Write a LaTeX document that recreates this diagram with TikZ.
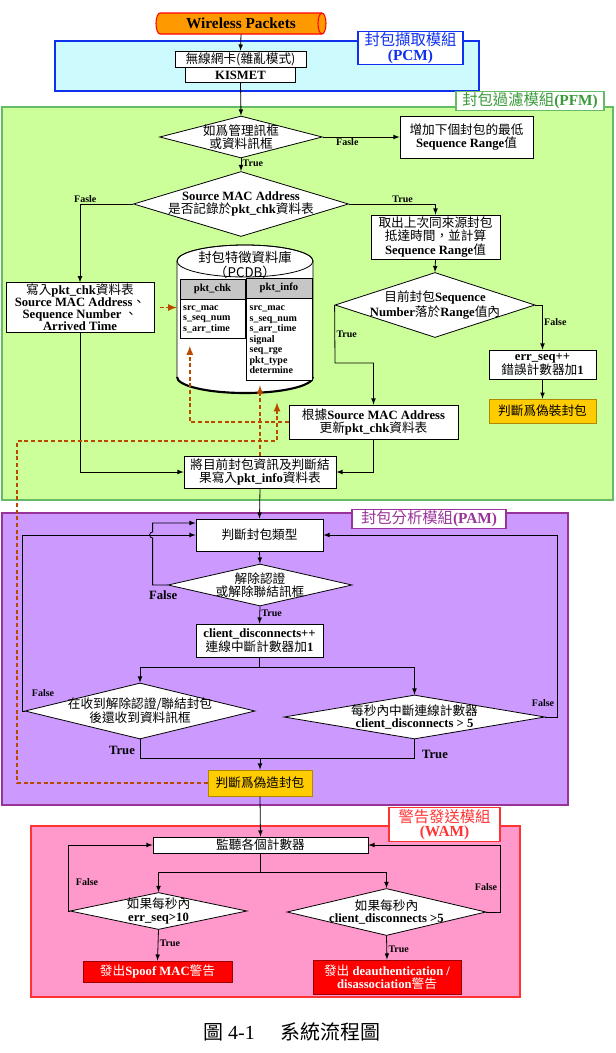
\documentclass[tikz,border=0pt]{standalone}
\usepackage{fontspec}
\setmainfont{Liberation Serif}
\newfontfamily\zhfont{Noto Sans CJK TC}
\newcommand{\zh}[1]{{\zhfont\mdseries #1}}
\usepackage{tikz}
\usetikzlibrary{positioning}
\usetikzlibrary{arrows,shapes.geometric}
\definecolor{pcmfill}{HTML}{CCFAFD}
\definecolor{pcmline}{HTML}{1030F0}
\definecolor{pfmfill}{HTML}{CCFF99}
\definecolor{pfmline}{HTML}{66BB66}
\definecolor{pfmtext}{HTML}{3A9A3A}
\definecolor{pamfill}{HTML}{CC99FF}
\definecolor{pamline}{HTML}{993399}
\definecolor{wamfill}{HTML}{FF99CC}
\definecolor{wamline}{HTML}{FF3333}
\definecolor{pktorange}{HTML}{FF9900}
\definecolor{fakeyellow}{HTML}{FFCC00}
\definecolor{fakeline}{HTML}{B08800}
\definecolor{alarmline}{HTML}{990000}
\definecolor{dbline}{HTML}{B84A00}
\tikzstyle{flow} = [draw,->]
\tikzstyle{dbflow} = [draw=dbline,->,line width=1.3pt,dash pattern=on 3pt off 2pt]
\tikzstyle{box} = [draw,fill=white,inner sep=1pt,align=center,font=\bfseries\fontsize{9.5}{10}\selectfont]
\tikzstyle{dia} = [diamond,draw,fill=white,inner xsep=-4pt,inner ysep=-2pt,align=center,font=\bfseries\fontsize{9.5}{9.5}\selectfont]
\tikzstyle{fake} = [box,fill=fakeyellow,draw=fakeline]
\tikzstyle{alarm} = [box,fill=red,draw=alarmline,text=white]
\tikzstyle{lbl} = [inner sep=1pt,font=\bfseries\fontsize{7.5}{8}\selectfont]
\tikzstyle{biglbl} = [inner sep=1pt,font=\bfseries\fontsize{9.5}{10}\selectfont]
\tikzstyle{modlabel} = [draw,fill=white,line width=1pt,align=center,inner sep=1pt,font=\bfseries\fontsize{11.5}{11}\selectfont]
\tikzstyle{tablehead} = [draw,fill=gray!45,inner sep=1pt,font=\bfseries\fontsize{8}{9}\selectfont]
\tikzstyle{tablebody} = [draw,fill=white,align=left,text width=44pt,inner sep=2pt,font=\bfseries\fontsize{7.5}{7.9}\selectfont]

\begin{document}
\begin{tikzpicture}[x=0.75pt,y=0.75pt,>=latex,line width=0.6pt]
  \useasboundingbox (0,0) rectangle (615,-1053);

  % modules
  \draw[pcmline,fill=pcmfill,line width=1.2pt] (55,-41) rectangle (479,-91);
  \draw[pfmline,fill=pfmfill,line width=1.2pt] (2,-107) rectangle (613,-500);
  \draw[pamline,fill=pamfill,line width=1.2pt] (2,-513) rectangle (568,-805);
  \draw[wamline,fill=wamfill,line width=1.2pt] (31,-826) rectangle (520,-997);

  \node[modlabel,draw=pcmline,text=pcmline,minimum width=78.75pt,minimum height=22.5pt] (pcmlab) at (410.5,-48) {\zh{封包擷取模組}\\(PCM)};
  \node[modlabel,draw=pfmline,text=pfmtext,minimum width=111pt,minimum height=13.5pt] (pfmlab) at (530,-101) {\zh{封包過濾模組}(PFM)};
  \node[modlabel,draw=pamline,text=pamline,minimum width=115.5pt,minimum height=12.75pt] (pamlab) at (429,-519) {\zh{封包分析模組}(PAM)};
  \node[modlabel,draw=wamline,text=wamline,minimum width=83.25pt,minimum height=24.75pt] (wamlab) at (444.5,-824.5) {\zh{警告發送模組}\\(WAM)};

  % PCM
  \draw[draw=red,fill=pktorange,line width=0.8pt] (160,-13) -- (322,-13) arc[start angle=90,end angle=-90,x radius=4,y radius=10.5]
    -- (160,-34) arc[start angle=270,end angle=90,x radius=4,y radius=10.5] -- cycle;
  \draw[red,line width=0.8pt] (322,-13) arc[start angle=90,end angle=270,x radius=4,y radius=10.5];
  \node[font=\bfseries\fontsize{11.5}{12}\selectfont,minimum width=126pt,minimum height=15.75pt,inner sep=0pt] (wp) at (241,-23.5) {Wireless Packets};
  \node[box,minimum width=98.25pt,minimum height=12pt,inner sep=0pt] (nic) at (240.5,-59) {\zh{無線網卡(雜亂模式)}};
  \node[box,minimum width=82.5pt,minimum height=11.25pt,inner sep=0pt,below=0pt of nic] (kismet) {KISMET};

  % PFM
  \node[dia,minimum width=122pt,minimum height=31.5pt,aspect=3.87] (frame) at (241,-137) {\zh{如爲管理訊框}\\\zh{或資料訊框}};
  \node[box,minimum width=99.75pt,minimum height=31.5pt] (minrange) at (466.5,-137) {\zh{增加下個封包的最低}\\Sequence Range\zh{值}};
  \node[dia,minimum width=161.25pt,minimum height=48.75pt,aspect=3.3] (known) at (241,-204) {Source MAC Address\\\zh{是否記錄於}pkt\_chk\zh{資料表}};
  \node[box,minimum width=96.75pt,minimum height=33pt] (lasttime) at (435.5,-237) {\zh{取出上次同來源封包}\\\zh{抵達時間，並計算}\\Sequence Range\zh{值}};
  \node[dia,minimum width=150pt,minimum height=48.75pt,aspect=3.08] (inrange) at (435,-305) {\zh{目前封包}Sequence\\Number\zh{落於}Range\zh{值內}};
  \node[box,minimum width=80.25pt,minimum height=21.75pt] (errseq) at (542.5,-364.5) {err\_seq++\\\zh{錯誤計數器加}1};
  \node[fake,minimum width=80.25pt,minimum height=18pt,below=14.5pt of errseq] (spoofed) {\zh{判斷爲偽裝封包}};
  \node[box,minimum width=111pt,minimum height=36.75pt,font=\bfseries\fontsize{9.5}{9}\selectfont] (addchk) at (80,-307.5)
    {\zh{寫入}pkt\_chk\zh{資料表}\\Source MAC Address\zh{、}\\Sequence Number \zh{、}\\Arrived Time};
  \node[box,minimum width=126.75pt,minimum height=25.5pt] (updchk) at (373.5,-422) {\zh{根據}Source MAC Address\\\zh{更新}pkt\_chk\zh{資料表}};
  \node[box,minimum width=114pt,minimum height=24pt] (addinfo) at (260,-472) {\zh{將目前封包資訊及判斷結}\\\zh{果寫入}pkt\_info\zh{資料表}};

  % PCDB
  \node[minimum width=102pt,minimum height=111pt,outer sep=0pt] (pcdb) at (245,-319) {};
  \draw[fill=white] ([yshift=-12pt]pcdb.north west) -- ([yshift=12pt]pcdb.south west) arc[start angle=180,end angle=360,x radius=51pt,y radius=12pt]
    -- ([yshift=-12pt]pcdb.north east) arc[start angle=0,end angle=180,x radius=51pt,y radius=12pt] -- cycle;
  \draw ([yshift=-12pt]pcdb.north) ellipse[x radius=51pt,y radius=12pt];
  \draw[line width=1.6pt] ([yshift=12pt]pcdb.south west) arc[start angle=180,end angle=360,x radius=51pt,y radius=12pt];
  \node[font=\fontsize{10}{11.5}\selectfont,align=center,inner sep=0pt] (pcdbname) at (245,-265) {\zh{封包特徵資料庫}\\\zh{（PCDB）}};
  \node[tablehead,minimum width=48.75pt,minimum height=15pt] (chkhead) at (212.5,-289) {pkt\_chk};
  \node[tablebody,minimum width=48.75pt,minimum height=29.25pt,below=0pt of chkhead] (chkbody) {src\_mac\\s\_seq\_num\\s\_arr\_time};
  \node[tablehead,minimum width=49.5pt,minimum height=15pt] (infohead) at (279,-288) {pkt\_info};
  \node[tablebody,minimum width=49.5pt,minimum height=61.5pt,below=0pt of infohead] (infobody)
    {src\_mac\\s\_seq\_num\\s\_arr\_time\\signal\\seq\_rge\\pkt\_type\\determine};

  % PAM
  \node[box,minimum width=95.25pt,minimum height=24pt] (pkttype) at (259.5,-535) {\zh{判斷封包類型}};
  \node[dia,minimum width=138pt,minimum height=31.5pt,aspect=4.38] (disframe) at (260,-585) {\zh{解除認證}\\\zh{或解除聯結訊框}};
  \node[box,minimum width=95.25pt,minimum height=24.75pt] (discnt) at (259.5,-640.5) {client\_disconnects++\\\zh{連線中斷計數器加}1};
  \node[dia,minimum width=172.5pt,minimum height=42pt,aspect=4.1] (dataafter) at (140,-711) {\zh{在收到解除認證/聯結封包}\\\zh{後還收到資料訊框}};
  \node[dia,minimum width=195.75pt,minimum height=33pt,aspect=5.93] (disrate) at (414.5,-717) {\zh{每秒內中斷連線計數器}\\client\_disconnects > 5};
  \node[fake,minimum width=78pt,minimum height=19.5pt] (forged) at (260,-783) {\zh{判斷爲偽造封包}};

  % WAM
  \node[box,minimum width=161.25pt,minimum height=12pt,inner sep=0pt] (monitor) at (260.5,-845) {\zh{監聽各個計數器}};
  \node[dia,minimum width=132.75pt,minimum height=27.75pt,aspect=4.78] (errrate) at (158.5,-911) {\zh{如果每秒內}\\err\_seq>10};
  \node[dia,minimum width=149.25pt,minimum height=35.25pt,aspect=4.23] (disrate2) at (386.5,-912) {\zh{如果每秒內}\\client\_disconnects >5};
  \node[alarm,minimum width=111.75pt,minimum height=15.75pt] (spoofalarm) at (157.5,-971.5) {\zh{發出}Spoof MAC\zh{警告}};
  \node[alarm,minimum width=111pt,minimum height=25.5pt] (deauthalarm) at (387,-977) {\zh{發出} deauthentication /\\disassociation\zh{警告}};

  \node[font=\fontsize{15}{17}\selectfont] (caption) at (292,-1032) {\zh{圖} 4-1\hspace{1.3em}\zh{系統流程圖}};

  % connectors
  \draw[flow] (wp.south) -- (nic.north);
  \draw[flow] (kismet.south) -- (frame.north);
  \draw[flow] (frame.east) -- node[lbl,below,pos=0.32] (nf1) {Fasle} (minrange.west);
  \draw[flow] (frame.south) -- node[lbl,right,pos=0.35] (nt1) {True} (known.north);
  \draw[flow] (known.west) -| node[lbl,above,pos=0.45] (nf2) {Fasle} (addchk.north);
  \draw[flow] (known.east) -| node[lbl,above,pos=0.31] (nt2) {True} (lasttime.north);
  \draw[flow] (lasttime.south) -- (inrange.north);
  \coordinate (tbend) at (335,-363);
  \draw[flow] (inrange.west) -- node[lbl,right,pos=0.5] (nt3) {True} (tbend) -| (updchk.north);
  \draw[flow] (inrange.east) -| node[lbl,right,pos=0.69] (nf3) {False} (errseq.north);
  \draw[flow] (errseq.south) -- (spoofed.north);
  \draw[flow] (addchk.south) |- (addinfo.west);
  \draw[flow] (updchk.south) |- (addinfo.east);
  \draw[flow] (addinfo.south) -- (pkttype.north);

  \draw[flow] (pkttype.south) -- (disframe.north);
  \draw[flow] (disframe.west) -- node[biglbl,below=3pt,pos=0.3] (nf4) {False} ++(-15,0) -- ++(0,47)
    arc[start angle=-90,end angle=-270,radius=3] |- ([yshift=9pt]pkttype.west);
  \draw[flow] (disframe.south) -- node[lbl,right,pos=0.4] (nt4) {True} (discnt.north);
  \draw[flow] (discnt.south) -- ++(0,-10) -| (dataafter.north);
  \draw[flow] (discnt.south) -- ++(0,-10) -| (disrate.north);
  \draw[flow] (dataafter.west) -- ++(-2,0) |- (pkttype.west);
  \node[lbl] (nf5) at (43,-693) {False};
  \draw[flow] (disrate.east) -- ++(12,0) |- (pkttype.east);
  \node[lbl] (nf6) at (543,-703) {False};
  \coordinate (merge) at (260,-758);
  \draw (dataafter.south) |- (merge);
  \draw (disrate.south) |- (merge);
  \draw[flow] (merge) -- (forged.north);
  \node[biglbl] (nt5) at (122,-750) {True};
  \node[biglbl] (nt6) at (435,-754) {True};

  \draw[flow] (forged.south) -- (monitor.north);
  \draw[flow] (monitor.south) -- ++(0,-19) -| (errrate.north);
  \draw[flow] (monitor.south) -- ++(0,-19) -| (disrate2.north);
  \draw[flow] (errrate.west) -- ++(-1,0) |- (monitor.west);
  \node[lbl] (nf7) at (87,-882) {False};
  \draw[flow] (disrate2.east) -- ++(14,0) |- (monitor.east);
  \node[lbl] (nf8) at (486,-887) {False};
  \draw[flow] (errrate.south) -- node[lbl,right,pos=0.45] (nt7) {True} (spoofalarm.north);
  \draw[flow] (disrate2.south) -- node[lbl,right,pos=0.55] (nt8) {True} (deauthalarm.north);

  % database access
  \coordinate (dbturn) at (17,-441);
  \draw[dbflow,shorten <=4pt] (addchk.east) -- (addchk.east -| pcdb.west);
  \draw[dbflow] (updchk.west) -| ([xshift=-17pt,yshift=-5pt]chkbody.south);
  \draw[dbflow,shorten >=3pt] (addinfo.north) -- (addinfo.north |- infobody.south);
  \draw[dbflow] (forged.west) -| (dbturn) -| ([xshift=24pt,yshift=-7pt]pcdb.south);
\end{tikzpicture}
\end{document}
